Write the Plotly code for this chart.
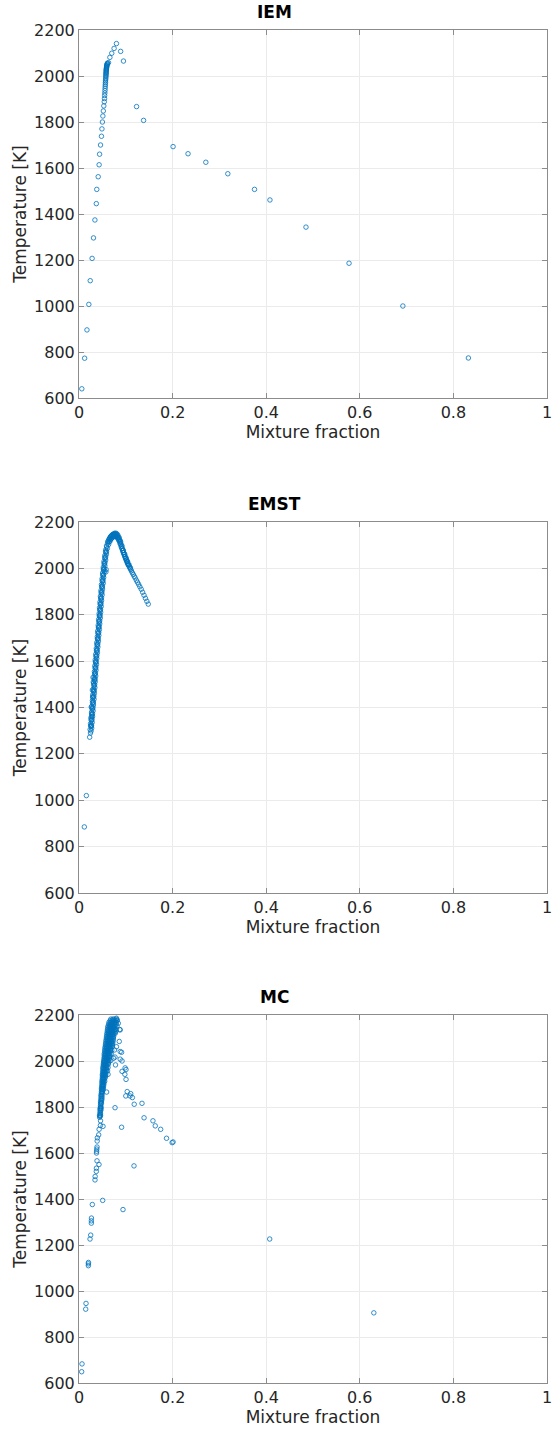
import plotly.graph_objects as go

# ---------------- data ----------------
panel_titles = ["IEM", "EMST", "MC"]
x_label = "Mixture fraction"
y_label = "Temperature [K]"
x_ticks = [0, 0.2, 0.4, 0.6, 0.8, 1]
y_ticks = [600, 800, 1000, 1200, 1400, 1600, 1800, 2000, 2200]

# IEM
iem_x = [0.006, 0.012, 0.017, 0.021, 0.024, 0.028, 0.031, 0.034, 0.037, 0.038,
         0.041, 0.043, 0.044, 0.046, 0.048, 0.049, 0.050, 0.051, 0.052, 0.053,
         0.0540, 0.0545, 0.0548, 0.0552, 0.0555, 0.0558, 0.0560, 0.0563, 0.0565, 0.0567,
         0.0570, 0.0572, 0.0574, 0.0575, 0.0577, 0.0578, 0.0580, 0.0581, 0.0582, 0.0583,
         0.0585, 0.0586, 0.0588, 0.0590, 0.0592, 0.0594, 0.0597, 0.0600, 0.0605, 0.0610,
         0.063, 0.066, 0.070, 0.075, 0.080, 0.089, 0.095, 0.123, 0.138, 0.201,
         0.233, 0.271, 0.318, 0.375, 0.408, 0.485, 0.577, 0.692, 0.832]
iem_T = [640, 773, 896, 1007, 1110, 1207, 1296, 1374, 1445, 1507,
         1562, 1614, 1660, 1700, 1738, 1770, 1800, 1826, 1848, 1870,
         1888, 1902, 1915, 1926, 1937, 1947, 1956, 1964, 1972, 1979,
         1986, 1992, 1998, 2003, 2008, 2012, 2016, 2020, 2024, 2027,
         2030, 2033, 2036, 2039, 2042, 2045, 2048, 2051, 2054, 2056,
         2058, 2081, 2099, 2120, 2141, 2107, 2065, 1867, 1807, 1693,
         1662, 1625, 1575, 1507, 1461, 1343, 1186, 1000, 774]

# EMST: isolated points, strands of the rising band, the arc / falling branch
emst_iso_x = [0.0114, 0.0157, 0.0228, 0.0245, 0.0262, 0.0268, 0.0262, 0.0290, 0.0286, 0.0305, 0.0300, 0.0575, 0.0580]
emst_iso_T = [885, 1020, 1272, 1290, 1320, 1360, 1402, 1445, 1475, 1510, 1530, 1985, 1995]

emst_a_T = [1305, 1330, 1355, 1380, 1405, 1430, 1455, 1480, 1505, 1530, 1555, 1580, 1605, 1630, 1655, 1680,
            1705, 1730, 1755, 1780, 1805, 1830, 1855, 1880, 1905, 1930, 1955, 1980, 2005, 2030, 2055, 2080]
emst_a_x = [0.0238, 0.0247, 0.0255, 0.0268, 0.0275, 0.0287, 0.0294, 0.0305, 0.0312, 0.0323, 0.0330, 0.0339,
            0.0346, 0.0358, 0.0370, 0.0380, 0.0391, 0.0400, 0.0411, 0.0420, 0.0431, 0.0438, 0.0449, 0.0458,
            0.0470, 0.0480, 0.0493, 0.0505, 0.0520, 0.0534, 0.0551, 0.0570]
emst_b_T = [1318, 1343, 1368, 1393, 1418, 1443, 1468, 1493, 1518, 1543, 1568, 1593, 1618, 1643, 1668, 1693,
            1718, 1743, 1768, 1793, 1818, 1843, 1868, 1893, 1918, 1943, 1968, 1993, 2018, 2043, 2068, 2093]
emst_b_x = [0.0258, 0.0266, 0.0279, 0.0286, 0.0298, 0.0306, 0.0317, 0.0324, 0.0335, 0.0341, 0.0351, 0.0357,
            0.0370, 0.0379, 0.0392, 0.0400, 0.0412, 0.0420, 0.0432, 0.0440, 0.0451, 0.0458, 0.0470, 0.0479,
            0.0492, 0.0502, 0.0516, 0.0527, 0.0543, 0.0556, 0.0576, 0.0593]
emst_c_T = [1311, 1336, 1361, 1386, 1411, 1436, 1461, 1486, 1511, 1536, 1561, 1586, 1611, 1636, 1661, 1686,
            1711, 1736, 1761, 1786, 1811, 1836, 1861, 1886, 1911, 1936, 1961, 1986, 2011, 2036, 2061, 2086]
emst_c_x = [0.0271, 0.0281, 0.0289, 0.0301, 0.0309, 0.0321, 0.0328, 0.0339, 0.0346, 0.0357, 0.0363, 0.0373,
            0.0380, 0.0393, 0.0403, 0.0415, 0.0423, 0.0435, 0.0443, 0.0455, 0.0463, 0.0474, 0.0481, 0.0494,
            0.0503, 0.0517, 0.0527, 0.0542, 0.0553, 0.0570, 0.0585, 0.0606]
emst_d_T = [1322, 1347, 1372, 1397, 1422, 1447, 1472, 1497, 1522, 1547, 1572, 1597, 1622, 1647, 1672, 1697,
            1722, 1747, 1772, 1797, 1822, 1847, 1872, 1897, 1922, 1947, 1972, 1997, 2022, 2047, 2072, 2097]
emst_d_x = [0.0250, 0.0260, 0.0270, 0.0280, 0.0290, 0.0300, 0.0309, 0.0318, 0.0327, 0.0335, 0.0343, 0.0352,
            0.0362, 0.0373, 0.0384, 0.0394, 0.0404, 0.0414, 0.0424, 0.0434, 0.0443, 0.0452, 0.0462, 0.0473,
            0.0484, 0.0496, 0.0508, 0.0521, 0.0536, 0.0551, 0.0569, 0.0588]
emst_e_T = [1299, 1324, 1349, 1374, 1399, 1424, 1449, 1474, 1499, 1524, 1549, 1574, 1599, 1624, 1649, 1674,
            1699, 1724, 1749, 1774, 1799, 1824, 1849, 1874, 1899, 1924, 1949, 1974, 1999, 2024, 2049, 2074]
emst_e_x = [0.0258, 0.0268, 0.0278, 0.0288, 0.0298, 0.0308, 0.0318, 0.0326, 0.0335, 0.0344, 0.0352, 0.0360,
            0.0368, 0.0380, 0.0391, 0.0402, 0.0412, 0.0422, 0.0432, 0.0442, 0.0452, 0.0460, 0.0470, 0.0480,
            0.0491, 0.0502, 0.0514, 0.0527, 0.0540, 0.0554, 0.0570, 0.0588]
emst_arc_x = [0.0610, 0.0625, 0.0640, 0.0655, 0.0670, 0.0685, 0.0700, 0.0715, 0.0730, 0.0745, 0.0760, 0.0775,
              0.0790, 0.0805, 0.0820, 0.0835, 0.0850, 0.0865, 0.0880, 0.0895, 0.0910, 0.0925, 0.0940, 0.0955,
              0.0970, 0.0985, 0.1000, 0.1015, 0.1030, 0.1045, 0.1060, 0.1075, 0.1090, 0.1105, 0.1120, 0.1140,
              0.1160, 0.1180, 0.1200, 0.1225, 0.1250, 0.1275, 0.1300, 0.1330, 0.1360, 0.1390, 0.1420, 0.1450, 0.1480]
emst_arc_T = [2108, 2117, 2124, 2130, 2135, 2139, 2142, 2144, 2146, 2147, 2148, 2148,
              2147, 2145, 2141, 2136, 2131, 2124, 2116, 2107, 2096, 2086, 2077, 2068,
              2060, 2051, 2043, 2036, 2028, 2020, 2014, 2007, 2001, 1995, 1989, 1981,
              1974, 1966, 1959, 1949, 1940, 1931, 1921, 1910, 1897, 1884, 1871, 1858, 1846]
emst_in_x = [0.0632, 0.0662, 0.0692, 0.0722, 0.0752, 0.0782, 0.0812, 0.0842, 0.0872, 0.0902,
             0.0932, 0.0962, 0.0992, 0.1022, 0.1052, 0.0647, 0.0677, 0.0707, 0.0737, 0.0767,
             0.0797, 0.0827, 0.0857, 0.0887, 0.0917, 0.0947, 0.0977, 0.1007, 0.1037]
emst_in_T = [2103, 2117, 2128, 2134, 2138, 2138, 2134, 2124, 2110, 2093,
             2076, 2060, 2044, 2029, 2015, 2114, 2125, 2132, 2137, 2139,
             2137, 2131, 2119, 2103, 2085, 2068, 2052, 2036, 2022]
emst_out_x = [0.0618, 0.0648, 0.0678, 0.0708, 0.0738, 0.0768, 0.0798, 0.0828, 0.0858, 0.0888,
              0.0918, 0.0948, 0.0978, 0.1008, 0.1038, 0.1068, 0.1098]
emst_out_T = [2116, 2128, 2137, 2144, 2149, 2152, 2151, 2145, 2133, 2117,
              2097, 2078, 2061, 2045, 2030, 2016, 2003]

# MC: sparse points and the dense cluster (rows of x at a common temperature)
mc_sparse_x = [0.0057, 0.0064, 0.0143, 0.0150, 0.0200, 0.0200, 0.0202, 0.0235, 0.0250, 0.0264,
               0.0264, 0.0266, 0.0285, 0.0506, 0.094, 0.1175, 0.077, 0.091, 0.4075, 0.630,
               0.0342, 0.0345, 0.0370, 0.0372, 0.0385, 0.0427, 0.0374, 0.0376, 0.0380, 0.0385,
               0.0388, 0.0392, 0.0420, 0.0430, 0.0457, 0.0460, 0.0513, 0.0442, 0.0445, 0.0460,
               0.0590,
               0.086, 0.076, 0.088, 0.091, 0.074, 0.088, 0.092, 0.078, 0.092, 0.0985,
               0.1005, 0.098, 0.1005, 0.103, 0.109, 0.114, 0.100, 0.118, 0.1105, 0.1346,
               0.139, 0.158, 0.163, 0.1745, 0.187, 0.199, 0.201, 0.084, 0.088, 0.082, 0.080]
mc_sparse_T = [649, 683, 921, 946, 1110, 1118, 1124, 1226, 1243, 1295,
               1305, 1317, 1376, 1394, 1354, 1544, 1797, 1712, 1226, 905,
               1483, 1498, 1520, 1534, 1566, 1550, 1600, 1608, 1617, 1626,
               1652, 1666, 1679, 1703, 1720, 1740, 1716, 1755, 1761, 1795,
               1865,
               2085, 2048, 2041, 2038, 2012, 2008, 2000, 1983, 1955, 1970,
               1963, 1942, 1920, 1867, 1848, 1841, 1848, 1812, 1858, 1816,
               1753, 1740, 1718, 1703, 1664, 1645, 1648, 2164, 2135, 2178, 2186]
mc_row_T = [2182, 2168, 2152, 2137, 2122, 2107, 2092, 2077, 2062, 2047,
            2032, 2017, 2002, 1987, 1972, 1957, 1942, 1927, 1912, 1897,
            1882, 1867, 1852, 1837, 1822, 1807, 1792, 1777, 1762]
mc_row_x = [[0.068, 0.072, 0.075, 0.079],
            [0.064, 0.067, 0.070, 0.073, 0.077, 0.080],
            [0.062, 0.065, 0.068, 0.071, 0.074, 0.077, 0.081],
            [0.061, 0.064, 0.067, 0.070, 0.073, 0.076, 0.079, 0.087],
            [0.060, 0.063, 0.066, 0.069, 0.072, 0.075, 0.078],
            [0.059, 0.062, 0.065, 0.068, 0.071, 0.074],
            [0.058, 0.061, 0.064, 0.067, 0.070, 0.073],
            [0.057, 0.060, 0.063, 0.066, 0.069, 0.072],
            [0.056, 0.059, 0.062, 0.065, 0.068, 0.071, 0.080],
            [0.055, 0.058, 0.061, 0.064, 0.067, 0.070],
            [0.054, 0.057, 0.060, 0.063, 0.066, 0.069],
            [0.054, 0.056, 0.059, 0.062, 0.065, 0.077],
            [0.053, 0.055, 0.058, 0.061, 0.064, 0.068],
            [0.052, 0.054, 0.057, 0.060, 0.063],
            [0.051, 0.053, 0.056, 0.059, 0.062],
            [0.051, 0.053, 0.055, 0.058, 0.061],
            [0.050, 0.052, 0.054, 0.057, 0.062],
            [0.050, 0.052, 0.054, 0.056],
            [0.049, 0.051, 0.053, 0.055],
            [0.049, 0.051, 0.053],
            [0.048, 0.050, 0.052],
            [0.048, 0.050],
            [0.047, 0.049],
            [0.047, 0.049],
            [0.046, 0.048],
            [0.046],
            [0.045, 0.047],
            [0.045],
            [0.044, 0.046]]
mc_row2_T = [2175, 2160, 2145, 2130, 2115, 2100, 2085, 2070, 2055, 2040,
             2025, 2010, 1995, 1980, 1965, 1950, 1935, 1920, 1905, 1890,
             1875, 1860, 1845, 1830, 1815, 1800, 1785, 1770]
mc_row2_x = [[0.0665, 0.0700, 0.0735, 0.0770, 0.0805],
             [0.0635, 0.0665, 0.0695, 0.0725, 0.0760, 0.0790],
             [0.0615, 0.0645, 0.0675, 0.0705, 0.0735, 0.0765],
             [0.0605, 0.0635, 0.0665, 0.0695, 0.0725, 0.0755, 0.0790],
             [0.0595, 0.0625, 0.0655, 0.0685, 0.0715, 0.0745],
             [0.0585, 0.0615, 0.0645, 0.0675, 0.0705, 0.0735],
             [0.0575, 0.0605, 0.0635, 0.0665, 0.0695, 0.0725],
             [0.0565, 0.0595, 0.0625, 0.0655, 0.0685, 0.0715],
             [0.0555, 0.0585, 0.0615, 0.0645, 0.0675],
             [0.0550, 0.0575, 0.0605, 0.0635, 0.0665],
             [0.0540, 0.0565, 0.0595, 0.0625, 0.0655],
             [0.0535, 0.0555, 0.0585, 0.0615, 0.0645],
             [0.0525, 0.0545, 0.0575, 0.0605, 0.0635],
             [0.0520, 0.0540, 0.0565, 0.0595],
             [0.0512, 0.0535, 0.0560, 0.0590],
             [0.0507, 0.0527, 0.0550, 0.0575],
             [0.0500, 0.0520, 0.0545, 0.0570],
             [0.0497, 0.0515, 0.0535],
             [0.0492, 0.0510, 0.0530],
             [0.0487, 0.0505, 0.0522],
             [0.0482, 0.0500, 0.0515],
             [0.0478, 0.0495],
             [0.0472, 0.0490],
             [0.0468, 0.0485],
             [0.0463, 0.0478],
             [0.0458, 0.0472],
             [0.0452, 0.0465],
             [0.0448, 0.0460]]

# ---------------- figure ----------------
W, H = 553, 1429
x0, x1 = 79, 547
panels_px = [(30, 398), (522, 893), (1015, 1383)]
blue = "#0072BD"

fig = go.Figure()

def add_pts(xs, ys, ax):
    fig.add_trace(go.Scatter(
        x=xs, y=ys, mode="markers", xaxis="x" + ax, yaxis="y" + ax, showlegend=False,
        marker=dict(symbol="circle-open", size=4.5, color=blue, line=dict(width=0.8, color=blue)),
        hoverinfo="x+y"))

add_pts(iem_x, iem_T, "")
add_pts(emst_iso_x + emst_a_x + emst_b_x + emst_c_x + emst_d_x + emst_e_x + emst_arc_x + emst_in_x + emst_out_x,
        emst_iso_T + emst_a_T + emst_b_T + emst_c_T + emst_d_T + emst_e_T + emst_arc_T + emst_in_T + emst_out_T, "2")
mc_dx, mc_dT = [], []
for rows_T, rows_x in ((mc_row_T, mc_row_x), (mc_row2_T, mc_row2_x)):
    for t, row in zip(rows_T, rows_x):
        mc_dx += row
        mc_dT += [t] * len(row)
add_pts(mc_sparse_x + mc_dx, mc_sparse_T + mc_dT, "3")

font_family = "DejaVu Sans"
tick_font = dict(family=font_family, size=16, color="#262626")
title_font = dict(family=font_family, size=17, color="#262626")
axis_common = dict(showline=True, linecolor="#8c8c8c", linewidth=1, mirror="ticks",
                   ticks="inside", ticklen=5, tickcolor="#8c8c8c", tickwidth=1,
                   showgrid=True, gridcolor="#ebebeb", gridwidth=1, zeroline=False,
                   tickfont=tick_font, automargin=False)

layout = dict(width=W, height=H, margin=dict(l=0, r=0, t=0, b=0, autoexpand=False),
              paper_bgcolor="white", plot_bgcolor="white", annotations=[])
for i, (top, bot) in enumerate(panels_px):
    sfx = "" if i == 0 else str(i + 1)
    layout["xaxis" + sfx] = dict(axis_common, domain=[x0 / W, x1 / W], range=[0, 1],
                                 tickvals=x_ticks, anchor="y" + sfx,
                                 title=dict(text=x_label, font=title_font, standoff=2))
    layout["yaxis" + sfx] = dict(axis_common, domain=[1 - bot / H, 1 - top / H], range=[600, 2200],
                                 tickvals=y_ticks, anchor="x" + sfx,
                                 title=dict(text=y_label, font=title_font, standoff=3))
    layout["annotations"].append(dict(text="<b>" + panel_titles[i] + "</b>", xref="paper", yref="paper",
                                      x=274 / W, y=1 - (top - 18) / H, showarrow=False,
                                      xanchor="center", yanchor="middle",
                                      font=dict(family=font_family, size=17, color="black")))

fig.update_layout(**layout)
fig.write_html("out.html")
